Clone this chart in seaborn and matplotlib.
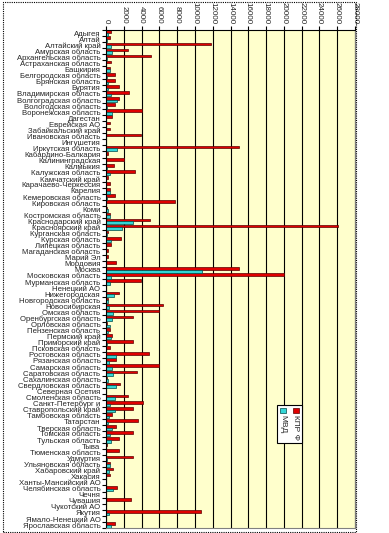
import matplotlib
matplotlib.use('Agg')
import matplotlib.pyplot as plt
import seaborn as sns
import pandas as pd
from matplotlib.patches import Rectangle
from matplotlib.ticker import FixedLocator

regions = [
    "Адыгея", "Алтай", "Алтайский край", "Амурская область", "Архангельская область",
    "Астраханская область", "Башкирия", "Белгородская область", "Брянская область", "Бурятия",
    "Владимирская область", "Волгоградская область", "Вологодская область", "Воронежская область",
    "Дагестан", "Еврейская АО", "Забайкальский край", "Ивановская область", "Ингушетия",
    "Иркутская область", "Кабардино-Балкария", "Калининградская", "Калмыкия", "Калужская область",
    "Камчатский край", "Карачаево-Черкессия", "Карелия", "Кемеровская область", "Кировская область",
    "Коми", "Костромская область", "Краснодарский край", "Красноярский край", "Курганская область",
    "Курская область", "Липецкая область", "Магаданская область", "Марий Эл", "Мордовия",
    "Москва", "Московская область", "Мурманская область", "Ненецкий АО", "Нижегородская",
    "Новгородская область", "Новосибирская", "Омская область", "Оренбургская область",
    "Орловская область", "Пензенская область", "Пермский край", "Приморский край",
    "Псковская область", "Ростовская область", "Рязанская область", "Самарская область",
    "Саратовская область", "Сахалинская область", "Свердловская область", "Северная Осетия",
    "Смоленская область", "Санкт-Петербург и", "Ставропольский край", "Тамбовская область",
    "Татарстан", "Тверская область", "Томская область", "Тульская область", "Тыва",
    "Тюменская область", "Удмуртия", "Ульяновская область", "Хабаровский край", "Хакасия",
    "Ханты-Мансийский АО", "Челябинская область", "Чечня", "Чувашия", "Чукотский АО",
    "Якутия", "Ямало-Ненецкий АО", "Ярославская область",
]

kprf = [
    600, 490, 11800, 2500, 5050, 600, 450, 1000, 1000, 1500,
    2580, 1500, 1050, 4080, 700, 490, 490, 3930, 0, 15000,
    260, 2000, 900, 3250, 220, 490, 450, 1050, 7780, 110,
    450, 4970, 26140, 220, 1720, 560, 220, 220, 1120, 15000,
    19970, 3930, 0, 1500, 220, 6400, 5950, 3030, 150, 450,
    710, 2990, 450, 4820, 1120, 5950, 3520, 150, 1610, 0,
    2470, 4150, 3030, 710, 3590, 1120, 3030, 1460, 150, 1460,
    3030, 450, 790, 450, 0, 1230, 0, 2800, 0, 10700,
    0, 1000,
]

mvd = [
    220, 75, 560, 710, 150, 0, 450, 150, 200, 220,
    600, 1270, 150, 710, 0, 0, 0, 0, 0, 1270,
    0, 0, 75, 450, 0, 0, 450, 100, 0, 220,
    450, 3030, 1830, 150, 520, 0, 0, 0, 0, 10800,
    560, 450, 0, 900, 220, 370, 790, 710, 450, 220,
    520, 150, 0, 1120, 340, 710, 820, 220, 1160, 0,
    1050, 450, 1050, 340, 220, 710, 450, 560, 0, 0,
    110, 450, 340, 0, 0, 790, 0, 0, 0, 340,
    0, 560,
]

series_names = ["КПР Ф", "МВД"]
x_ticks = list(range(0, 28001, 2000))

sns.set_theme(style="white")
plt.rcParams['font.family'] = ['Liberation Sans', 'DejaVu Sans']

W, H = 389, 533
fig = plt.figure(figsize=(W / 100, H / 100), dpi=100)
fig.patch.set_facecolor('white')
ax = fig.add_axes([106 / W, 1 - 528 / H, (355 - 106) / W, (528 - 30) / H])

df = pd.DataFrame({
    'region': regions * 2,
    'value': kprf + mvd,
    'series': [series_names[0]] * len(regions) + [series_names[1]] * len(regions),
})

sns.barplot(data=df, y='region', x='value', hue='series', orient='h',
            palette=['#E00000', '#33D6D6'], width=0.86, saturation=1,
            linewidth=0.5, ax=ax, legend=False, errorbar=None)

edge_cols = ['#5a0000', '#004848']
for cont, ec in zip(ax.containers, edge_cols):
    for p in cont:
        p.set_edgecolor(ec)
        p.set_linewidth(0.5)

ax.set_facecolor('#FFFFCC')
ax.set_xlim(0, 28000)
ax.set_ylim(len(regions) - 0.5, -0.5)
ax.set_xlabel('')
ax.set_ylabel('')

ax.xaxis.tick_top()
ax.set_xticks(x_ticks)
ax.set_xticklabels([str(t) for t in x_ticks])
ax.tick_params(axis='x', which='major', top=True, bottom=False, length=3, width=0.8,
               labelsize=5.8, labelrotation=-90, pad=1.5, color='black', direction='out')

ax.set_yticks(range(len(regions)))
ax.set_yticklabels(regions, fontsize=5.6)
ax.tick_params(axis='y', which='major', length=0, pad=4)
ax.yaxis.set_minor_locator(FixedLocator([i + 0.5 for i in range(-1, len(regions))]))
ax.tick_params(axis='y', which='minor', left=True, length=3, width=0.8, color='black', direction='out')

ax.grid(True, axis='x', color='black', linewidth=0.8)
ax.grid(False, axis='y')
ax.set_axisbelow(True)

for s in ['top', 'left']:
    ax.spines[s].set_color('black')
    ax.spines[s].set_linewidth(0.8)
for s in ['right', 'bottom']:
    ax.spines[s].set_color('#808080')
    ax.spines[s].set_linewidth(0.8)

# dotted chart border
fig.add_artist(Rectangle((3 / W, 1 - 532 / H), (356 - 3) / W, (532 - 2) / H,
                         transform=fig.transFigure, fill=False, ls=(0, (1, 1)),
                         lw=0.8, ec='black'))

# legend (rotated)
def fx(px):
    return px / W

def fy(py):
    return 1 - py / H

fig.add_artist(Rectangle((fx(277), fy(443)), fx(302) - fx(277), fy(405) - fy(443),
                         transform=fig.transFigure, fc='white', ec='black', lw=0.8, zorder=5))
leg_items = [(series_names[0], '#E00000', edge_cols[0], 295.5),
             (series_names[1], '#33D6D6', edge_cols[1], 282.5)]
for name, fc, ec, cx in leg_items:
    fig.add_artist(Rectangle((fx(cx - 3), fy(413)), fx(6), 5 / H,
                             transform=fig.transFigure, fc=fc, ec=ec, lw=0.5, zorder=6))
    fig.text(fx(cx), fy(415), name, rotation=-90, ha='center', va='top',
             fontsize=6, zorder=7)

fig.savefig('out.png', dpi=100)
